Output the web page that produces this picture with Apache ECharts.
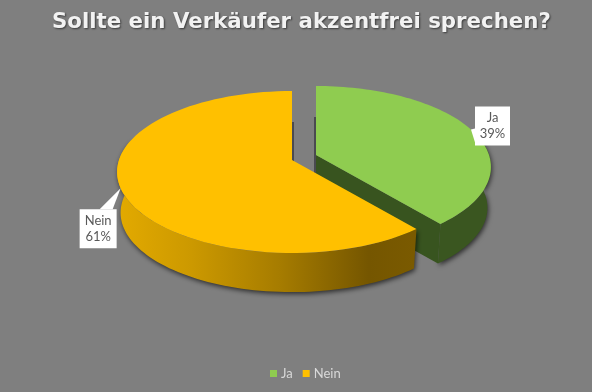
<!DOCTYPE html>
<html>
<head>
<meta charset="utf-8">
<style>
html,body{margin:0;padding:0;background:#7f7f7f;}
#chart{width:592px;height:392px;}
</style>
<script src="https://cdn.jsdelivr.net/npm/echarts@6/dist/echarts.min.js"></script>
</head>
<body>
<div id="chart"></div>
<script>
const chartTitle='Sollte ein Verkäufer akzentfrei sprechen?'
const categories=['Ja','Nein']
const shares=[39,61]

// pie plane seen in perspective
const radiusX=173
const radiusY=79.2
const tilt=0.148
const depth=41
const baseScale=0.98
// part of the rim whose outer wall faces the viewer
const frontFrom=75
const frontTo=285

const sliceStyle={
  Ja:{apex:[316,155],top:'#8fcc50',wall:'#3a5620',cut:'#38541f',box:[4,-23]},
  Nein:{apex:[292,160],top:'#ffc000',cut:'#8a6500',box:[-41,21]}
}
const yellowWall={type:'linear',x:117,y:0,x2:413,y2:0,global:true,colorStops:[
  {offset:0,color:'#e3aa00'},
  {offset:0.25,color:'#cc9900'},
  {offset:0.55,color:'#a67c00'},
  {offset:0.85,color:'#755600'},
  {offset:1,color:'#7a5a00'}
]}

const total=shares.reduce((a,b)=>a+b,0)

// angle in degrees clockwise from 12 o'clock -> screen point
const rimPoint=(apex,deg,drop,scale)=>{
  const r=deg*Math.PI/180
  const u=Math.sin(r)
  const s=-Math.cos(r)
  const w=1-tilt*s
  return [apex[0]+scale*radiusX*u/w,apex[1]+drop+scale*radiusY*s/w]
}

const arcPoints=(apex,from,to,drop,scale)=>{
  const pts=[]
  const n=80
  for(let i=0;i<=n;i++) pts.push(rimPoint(apex,from+(to-from)*i/n,drop,scale))
  return pts
}

const renderSlice=(params,api)=>{
  const idx=params.seriesIndex
  const name=categories[idx]
  const st=sliceStyle[name]
  let from=0
  for(let i=0;i<idx;i++) from+=shares[i]/total*360
  const to=from+api.value(0)/total*360
  const mid=(from+to)/2
  const apex=st.apex
  const shadow={shadowBlur:5,shadowColor:'rgba(0,0,0,0.65)',shadowOffsetX:1,shadowOffsetY:2}
  const children=[]

  // thin dark edge seen through the gap between the slices
  const edgeX=apex[0]+(idx===0?-1:1)
  children.push({type:'line',shape:{x1:edgeX,y1:apex[1]-38,x2:edgeX,y2:apex[1]+depth},
    style:{stroke:'#4a4a50',lineWidth:2}})

  const wallFrom=Math.max(from,frontFrom)
  const wallTo=Math.min(to,frontTo)
  const wallUpper=arcPoints(apex,wallFrom,wallTo,0,1)
  const wallLower=arcPoints(apex,wallFrom,wallTo,depth,baseScale)
  children.push({type:'polygon',shape:{points:wallUpper.concat(wallLower.slice().reverse())},
    style:Object.assign({fill:name==='Nein'?yellowWall:st.wall},shadow)})

  if(name==='Ja'){
    const end=rimPoint(apex,to,0,1)
    const endLow=rimPoint(apex,to,depth,baseScale)
    children.push({type:'polygon',shape:{points:[apex,end,endLow,[apex[0],apex[1]+depth]]},
      style:{fill:st.cut}})
  }

  children.push({type:'polygon',shape:{points:[apex].concat(arcPoints(apex,from,to,0,1))},style:{fill:st.top}})

  // callout box with its pointer on the rim at the middle of the slice
  const tip=rimPoint(apex,mid,0,1)
  const bx=tip[0]+st.box[0]
  const by=tip[1]+st.box[1]
  const bw=name==='Ja'?35:37
  const bh=39
  const pointer=name==='Ja'
    ?[tip,[bx,by+22],[bx,by+36]]
    :[tip,[bx+20,by],[bx+33,by]]
  children.push({type:'polygon',shape:{points:pointer},style:{fill:'#fff'}})
  children.push({type:'rect',shape:{x:bx,y:by,width:bw,height:bh},style:{fill:'#fff'}})
  children.push({type:'text',style:{
    text:name+'\n'+api.value(0)+'%',x:bx+bw/2,y:by+bh/2,
    align:'center',verticalAlign:'middle',
    fontFamily:'Lato',fontSize:13,lineHeight:16,fill:'#595959'
  }})

  return {type:'group',children}
}

const myChart=echarts.init(document.getElementById('chart'))

myChart.setOption({
  animation:false,
  backgroundColor:'#7f7f7f',
  title:{
    text:chartTitle,
    left:47,
    top:7,
    textStyle:{
      fontFamily:'DejaVu Sans',
      fontSize:21.3,
      fontWeight:'bold',
      color:'#f2f2f2',
      textShadowColor:'rgba(0,0,0,0.55)',
      textShadowBlur:2,
      textShadowOffsetX:1,
      textShadowOffsetY:1
    }
  },
  legend:{
    data:categories,
    bottom:7,
    left:265,
    icon:'rect',
    itemWidth:7,
    itemHeight:7,
    itemGap:10,
    selectedMode:false,
    textStyle:{fontFamily:'Lato',fontSize:13,color:'#d9d9d9',padding:[0,0,0,-1]}
  },
  series:categories.map((name,i)=>({
    name:name,
    type:'custom',
    coordinateSystem:'none',
    silent:true,
    clip:false,
    renderItem:renderSlice,
    itemStyle:{color:sliceStyle[name].top},
    data:[[shares[i]]]
  }))
})
</script>
</body>
</html>
